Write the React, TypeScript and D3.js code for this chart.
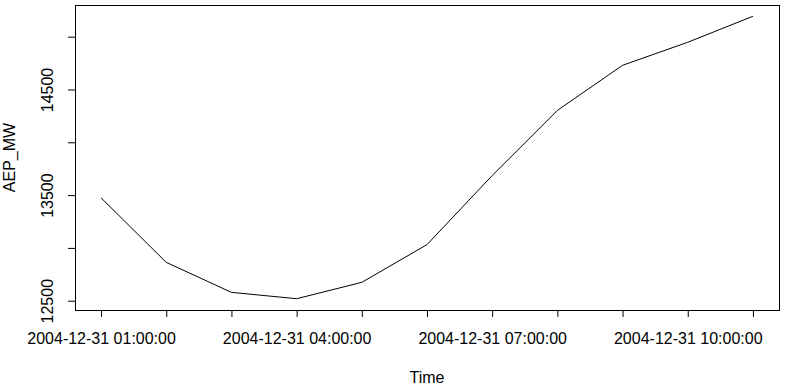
import React, { useEffect, useRef } from "react";
import * as d3 from "d3";

const times = [
  "2004-12-31 01:00:00",
  "2004-12-31 02:00:00",
  "2004-12-31 03:00:00",
  "2004-12-31 04:00:00",
  "2004-12-31 05:00:00",
  "2004-12-31 06:00:00",
  "2004-12-31 07:00:00",
  "2004-12-31 08:00:00",
  "2004-12-31 09:00:00",
  "2004-12-31 10:00:00",
  "2004-12-31 11:00:00",
];
const aepMW = [13474, 12863, 12579, 12519, 12674, 13031, 13685, 14302, 14729, 14947, 15193];
const yTicks = [12500, 13000, 13500, 14000, 14500, 15000];
const yLabels = [12500, 13500, 14500];
const xLabels = ["2004-12-31 01:00:00", "2004-12-31 04:00:00", "2004-12-31 07:00:00", "2004-12-31 10:00:00"];

const W = 786;
const H = 389;
const FONT = "'Liberation Sans', Arial, sans-serif";

export default function App() {
  const ref = useRef<SVGSVGElement>(null);

  useEffect(() => {
    const parse = d3.timeParse("%Y-%m-%d %H:%M:%S");
    const fmt = d3.timeFormat("%Y-%m-%d %H:%M:%S");
    const dates = times.map((t) => parse(t) as Date);
    const data = dates.map((d, i) => ({ d, v: aepMW[i] }));

    const left = 75, right = 779, top = 5, bottom = 310;

    const svg = d3.select(ref.current);
    svg.selectAll("*").remove();

    // R style 4% padding on both axes
    const tExt = d3.extent(dates) as [Date, Date];
    const span = +tExt[1] - +tExt[0];
    const x = d3.scaleTime()
      .domain([new Date(+tExt[0] - span * 0.04), new Date(+tExt[1] + span * 0.04)])
      .range([left, right]);

    const vExt = d3.extent(aepMW) as [number, number];
    const vr = vExt[1] - vExt[0];
    const y = d3.scaleLinear()
      .domain([vExt[0] - vr * 0.04, vExt[1] + vr * 0.04])
      .range([bottom, top]);

    const line = d3.line<{ d: Date; v: number }>()
      .x((p) => x(p.d))
      .y((p) => y(p.v));

    svg.append("path")
      .datum(data)
      .attr("d", line)
      .attr("fill", "none")
      .attr("stroke", "#000")
      .attr("stroke-width", 1);

    // x axis
    const gx = svg.append("g")
      .attr("transform", `translate(0, ${bottom})`)
      .call(d3.axisBottom(x)
        .tickValues(dates)
        .tickSize(7)
        .tickPadding(16)
        .tickFormat((d) => {
          const s = fmt(d as Date);
          return xLabels.includes(s) ? s : "";
        }));
    gx.select(".domain").remove();
    gx.selectAll("text")
      .attr("fill", "#000")
      .style("font-family", FONT)
      .style("font-size", "16px");

    // y axis
    const gy = svg.append("g")
      .attr("transform", `translate(${left}, 0)`)
      .call(d3.axisLeft(y)
        .tickValues(yTicks)
        .tickSize(7)
        .tickFormat((d) => (yLabels.includes(+d) ? String(d) : "")));
    gy.select(".domain").remove();
    gy.selectAll("text")
      .attr("x", null)
      .attr("dy", null)
      .attr("text-anchor", "middle")
      .attr("transform", "translate(-22, 0) rotate(-90)")
      .attr("fill", "#000")
      .style("font-family", FONT)
      .style("font-size", "16px");

    // box
    svg.append("rect")
      .attr("x", left + 0.5)
      .attr("y", top + 0.5)
      .attr("width", right - left)
      .attr("height", bottom - top)
      .attr("fill", "none")
      .attr("stroke", "#000");

    svg.append("text")
      .attr("x", (left + right) / 2)
      .attr("y", 383)
      .attr("text-anchor", "middle")
      .style("font-family", FONT)
      .style("font-size", "16px")
      .text("Time");

    svg.append("text")
      .attr("transform", `translate(15, ${(top + bottom) / 2}) rotate(-90)`)
      .attr("text-anchor", "middle")
      .style("font-family", FONT)
      .style("font-size", "16px")
      .text("AEP_MW");
  }, []);

  return (
    <svg
      ref={ref}
      width={W}
      height={H}
      style={{ position: "fixed", left: 0, top: 0, background: "#fff" }}
    />
  );
}
